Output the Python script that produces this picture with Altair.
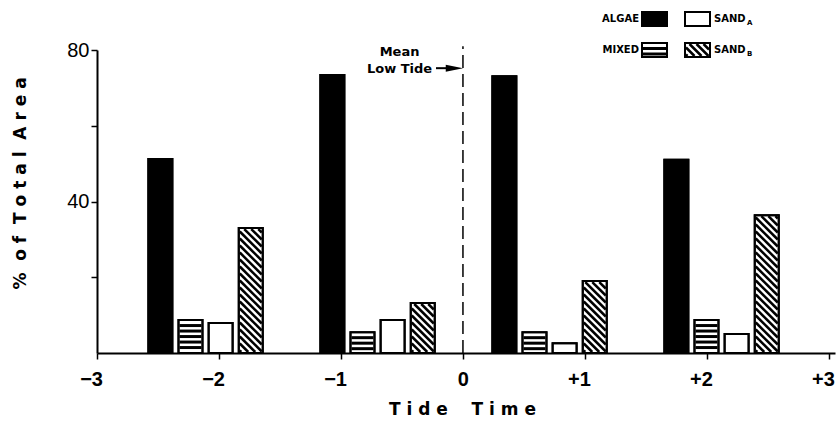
import numpy as np
import pandas as pd
import altair as alt

# ---------------- data ----------------
series = ["ALGAE", "MIXED", "SAND_A", "SAND_B"]
group_centers = [-2.11, -0.70, 0.71, 2.12]   # tide time at the centre of each bar group
algae = [51.2, 73.4, 73.1, 51.0]
mixed = [8.7, 5.5, 5.5, 8.7]
sand_a = [7.9, 8.7, 2.6, 5.0]
sand_b = [33.0, 13.2, 19.0, 36.4]
x_tick_values = [-3, -2, -1, 0, 1, 2, 3]
y_tick_values = [20, 40, 60, 80]
y_label_values = [40, 80]
mean_low_tide = [0]
note_lines = ["Mean", "Low Tide"]

# ---------------- layout ----------------
W, H = 738, 303
X_DOMAIN = [-3.0, 3.05]
Y_DOMAIN = [0, 80]
PX_X = W / (X_DOMAIN[1] - X_DOMAIN[0])
PX_Y = H / (Y_DOMAIN[1] - Y_DOMAIN[0])
BAR_STEP = 0.247          # tide units between neighbouring bars of a group
BAR_W = 24.0              # px
FONT = "DejaVu Sans"
NUM_FONT = "Liberation Sans"

values = {"ALGAE": algae, "MIXED": mixed, "SAND_A": sand_a, "SAND_B": sand_b}
fill_range = ["black", "white", "white", "white"]
hatch_kind = {"MIXED": "h", "SAND_B": "d"}


def hatch(kind, w, h, a=1.0):
    """stripe segments in local pixel coords (u to the right, v upwards)"""
    segs = []
    if kind == "h":
        p = 5.5
        v = h - p
        while v > a + 0.8:
            segs.append((a, v, w - a, v))
            v -= p
    else:
        p = 7.0
        c = p / 2
        while c < w + h:
            lo = max(a, c - (h - a))
            hi = min(w - a, c - a)
            if hi - lo > 0.3:
                segs.append((lo, c - lo, hi, c - hi))
            c += p
    return segs


bar_rows, hatch_rows = [], []
for gi, c in enumerate(group_centers):
    for si, s in enumerate(series):
        xc = c + (si - 1.5) * BAR_STEP
        x0 = xc - BAR_W / 2 / PX_X
        x1 = xc + BAR_W / 2 / PX_X
        val = values[s][gi]
        bar_rows.append(dict(series=s, x0=x0, x1=x1, value=val, base=0.0))
        if s in hatch_kind:
            for (u0, v0, u1, v1) in hatch(hatch_kind[s], BAR_W, val * PX_Y):
                hatch_rows.append(dict(kind=hatch_kind[s], x0=x0 + u0 / PX_X, value=v0 / PX_Y,
                                       x1=x0 + u1 / PX_X, base=v1 / PX_Y))
bars_df = pd.DataFrame(bar_rows)
hatch_df = pd.DataFrame(hatch_rows)

# legend (pixel coordinates relative to plot origin)
BOX_W, BOX_H = 25, 14
leg_pos = {"ALGAE": (545, -38), "SAND_A": (588, -38), "MIXED": (545, -7), "SAND_B": (588, -7)}
leg_rows, leg_hatch_rows = [], []
for s in series:
    px0, py0 = leg_pos[s]
    leg_rows.append(dict(series=s, px0=px0, px1=px0 + BOX_W, py0=py0, py1=py0 + BOX_H))
    if s in hatch_kind:
        for (u0, v0, u1, v1) in hatch(hatch_kind[s], BOX_W, BOX_H):
            leg_hatch_rows.append(dict(kind=hatch_kind[s], hx0=px0 + u0, hy0=py0 + BOX_H - v0,
                                       hx1=px0 + u1, hy1=py0 + BOX_H - v1))
leg_df = pd.DataFrame(leg_rows)
leg_hatch_df = pd.DataFrame(leg_hatch_rows)

left_rows, right_rows, sub_rows = [], [], []
for s in series:
    px0, py0 = leg_pos[s]
    name = s.split("_")[0]
    if px0 < 560:
        left_rows.append(dict(text=name, px=px0 - 3, py=py0 + 7))
    else:
        right_rows.append(dict(text=name, px=px0 + BOX_W + 4, py=py0 + 7))
        sub_rows.append(dict(text=s.split("_")[1], px=px0 + BOX_W + 37, py=py0 + 11))
left_df = pd.DataFrame(left_rows)
right_df = pd.DataFrame(right_rows)
sub_df = pd.DataFrame(sub_rows)


def spaced(text, gap=1, word_gap=4):
    nb = "\u00a0"
    words = text.split(" ")
    return (nb * word_gap).join((nb * gap).join(list(w)) for w in words)


xs = alt.Scale(domain=X_DOMAIN, nice=False, zero=False)
ys = alt.Scale(domain=Y_DOMAIN, nice=False, zero=False)
fill_enc = alt.Fill("series:N", scale=alt.Scale(domain=series, range=fill_range), legend=None)
hatch_w = alt.StrokeWidth("kind:N", scale=alt.Scale(domain=["h", "d"], range=[3.0, 2.5]), legend=None)

x_axis = alt.Axis(
    values=x_tick_values, grid=False,
    labelExpr="datum.value > 0 ? '+' + datum.label : datum.label",
    labelFont=NUM_FONT, labelFontSize=20, labelFontWeight="bold", labelColor="black",
    labelAlign="right", labelOffset=5.5, labelPadding=10, labelBaseline="top",
    tickSize=6, tickWidth=1.5, tickColor="black", domainColor="black", domainWidth=2,
    title=spaced("Tide Time", 1, 4), titleFont=FONT, titleFontSize=17, titleFontWeight="bold",
    titleColor="black", titleX=365, titleY=56, titleBaseline="middle", titleAlign="center",
)
y_axis = alt.Axis(
    values=y_tick_values, grid=False,
    labelExpr="indexof([" + ",".join(str(v) for v in y_label_values) + "], datum.value) >= 0 ? datum.label : ''",
    labelFont=NUM_FONT, labelFontSize=20, labelColor="black", labelPadding=2,
    tickSize=6, tickWidth=1.5, tickColor="black", domainColor="black", domainWidth=2,
    title=spaced("% of Total Area", 1, 2), titleFont=FONT, titleFontSize=17, titleFontWeight="bold",
    titleColor="black", titleX=-77, titleY=133, titleAngle=-90, titleBaseline="middle", titleAlign="center",
)


def X(field):
    return alt.X(field, type="quantitative", scale=xs, axis=x_axis)


def Y(field):
    return alt.Y(field, type="quantitative", scale=ys, axis=y_axis)


bars = alt.Chart(bars_df).mark_rect(stroke="black", strokeWidth=2).encode(
    x=X("x0"), x2="x1", y=Y("value"), y2="base", fill=fill_enc,
)
hatch_layer = alt.Chart(hatch_df).mark_rule(color="black", strokeCap="butt").encode(
    x=X("x0"), y=Y("value"), x2="x1", y2="base", strokeWidth=hatch_w,
)
outline = alt.Chart(bars_df).mark_rect(stroke="black", strokeWidth=2, fillOpacity=0, fill="white").encode(
    x=X("x0"), x2="x1", y=Y("value"), y2="base",
)

tide_df = pd.DataFrame({"x0": mean_low_tide, "value": [0.0], "base": [81.0]})
dashed = alt.Chart(tide_df).mark_rule(color="black", strokeWidth=1.5, strokeDash=[13, 6]).encode(
    x=X("x0"), y=Y("value"), y2="base",
)

arrow_df = pd.DataFrame({"x0": [-0.221], "x1": [-0.07], "value": [75.2]})
arrow_line = alt.Chart(arrow_df).mark_rule(color="black", strokeWidth=2).encode(
    x=X("x0"), x2="x1", y=Y("value"),
)
arrow_head = alt.Chart(arrow_df).mark_point(
    shape="M-1,-0.4L1,0L-1,0.4Z", size=300, filled=True, color="black", opacity=1
).encode(
    x=X("x1"), y=Y("value"),
)

notes_df = pd.DataFrame({"text": note_lines, "x0": [-0.52, -0.52], "value": [79.5, 75.0]})
notes = alt.Chart(notes_df).mark_text(
    font=FONT, fontSize=13, fontWeight="bold", color="black", align="center", baseline="middle"
).encode(
    x=X("x0"), y=Y("value"), text="text:N",
)

leg_rect = alt.Chart(leg_df).mark_rect(stroke="black", strokeWidth=2).encode(
    x=alt.X("px0:Q", scale=None), x2="px1:Q",
    y=alt.Y("py0:Q", scale=None), y2="py1:Q",
    fill=fill_enc,
)
leg_hatch = alt.Chart(leg_hatch_df).mark_rule(color="black", strokeCap="butt").encode(
    x=alt.X("hx0:Q", scale=None), y=alt.Y("hy0:Q", scale=None),
    x2="hx1:Q", y2="hy1:Q", strokeWidth=hatch_w,
)
leg_outline = alt.Chart(leg_df).mark_rect(stroke="black", strokeWidth=2, fillOpacity=0, fill="white").encode(
    x=alt.X("px0:Q", scale=None), x2="px1:Q",
    y=alt.Y("py0:Q", scale=None), y2="py1:Q",
)
leg_text_r = alt.Chart(left_df).mark_text(
    font=FONT, fontSize=10, fontWeight="bold", color="black", align="right", baseline="middle"
).encode(
    x=alt.X("px:Q", scale=None), y=alt.Y("py:Q", scale=None), text="text:N"
)
leg_text_l = alt.Chart(right_df).mark_text(
    font=FONT, fontSize=10, fontWeight="bold", color="black", align="left", baseline="middle"
).encode(
    x=alt.X("px:Q", scale=None), y=alt.Y("py:Q", scale=None), text="text:N"
)
leg_sub = alt.Chart(sub_df).mark_text(
    font=FONT, fontSize=7, fontWeight="bold", color="black", align="left", baseline="middle"
).encode(
    x=alt.X("px:Q", scale=None), y=alt.Y("py:Q", scale=None), text="text:N"
)

chart = alt.layer(
    bars, hatch_layer, outline, dashed, arrow_line, arrow_head, notes,
    leg_rect, leg_hatch, leg_outline, leg_text_r, leg_text_l, leg_sub,
).properties(
    width=W, height=H,
    padding={"left": 97, "top": 50, "right": 1, "bottom": 70},
    autosize=alt.AutoSizeParams(type="none"),
    background="white",
).configure_view(strokeWidth=0)

chart.save("out.html", embed_options={"renderer": "svg", "actions": False})
